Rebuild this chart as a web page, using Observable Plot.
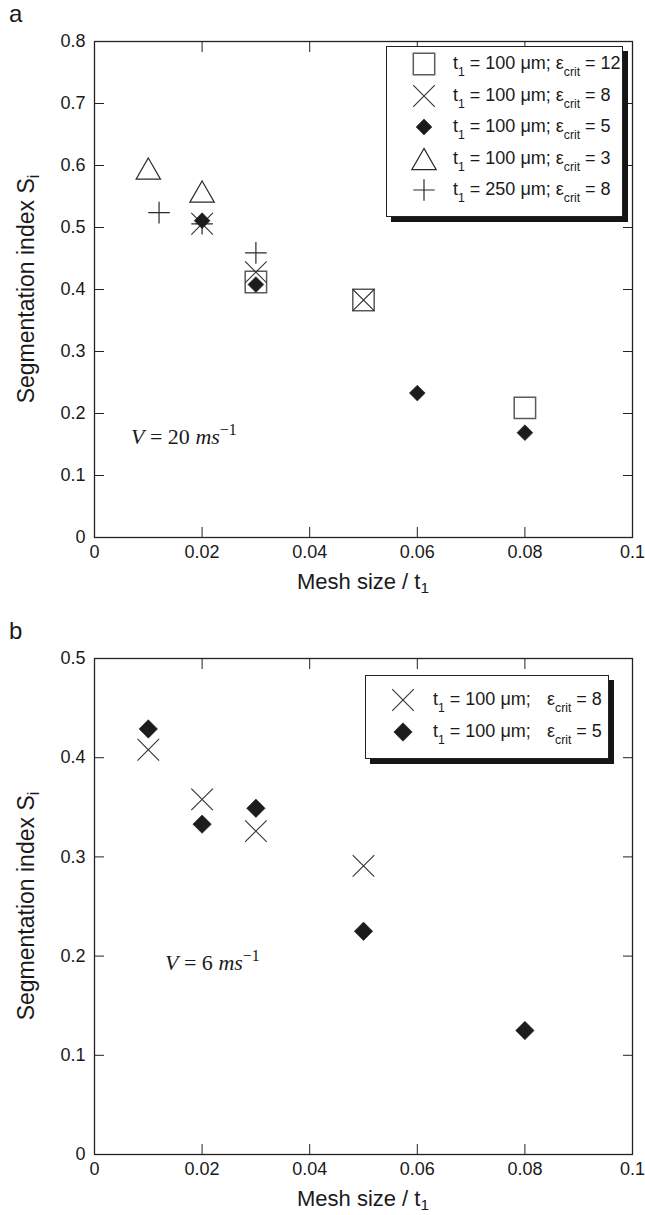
<!DOCTYPE html>
<html><head><meta charset="utf-8">
<script src="https://cdn.jsdelivr.net/npm/d3@7"></script>
<script src="https://cdn.jsdelivr.net/npm/@observablehq/plot@0.6"></script>
<style>
body{margin:0;background:#fff;font-family:"Liberation Sans",Arial,sans-serif;color:#1a1a1a}
#root{position:relative;width:645px;height:1215px;overflow:hidden;background:#fff}
.panel{position:absolute;left:0;width:645px;height:600px}
.panel svg{position:absolute;left:0;top:0}
.plabel{position:absolute;font-size:24px;line-height:26px;left:9px;top:1px}
.xlab,.ylab{position:absolute;font-size:22px;line-height:1.2;white-space:nowrap}
.xlab{transform:translate(-50%,-50%)}
.ylab{font-size:23px;transform:translate(-50%,-50%) rotate(-90deg)}
sub{font-size:0.7em;line-height:0;vertical-align:-0.3em}
.legend{position:absolute;border:1.3px solid #222;background:#fff;box-shadow:5px 5px 0 #161616;box-sizing:border-box}
.sym{position:absolute;width:30px;height:30px;transform:translate(-50%,-50%)}
.ltxt{position:absolute;font-size:18px;line-height:1.2;white-space:nowrap;transform:translateY(-50%)}
.ltxt sub{font-size:0.68em;vertical-align:-0.55em}
.vann{position:absolute;font-family:"Liberation Serif","Times New Roman",serif;font-size:22px;line-height:1.2;white-space:nowrap;transform:translateY(-50%)}
.vann sup{font-size:0.72em;line-height:0;vertical-align:0.55em}
</style>
</head><body>
<div id="root"></div>
<script>
// ---------- data ----------
const xTicks = [0, 0.02, 0.04, 0.06, 0.08, 0.1];
const yTicksA = [0, 0.1, 0.2, 0.3, 0.4, 0.5, 0.6, 0.7, 0.8];
const yTicksB = [0, 0.1, 0.2, 0.3, 0.4, 0.5];

// panel a  (V = 20 m/s)
const aE12x = [0.03, 0.05, 0.08];          const aE12y = [0.412, 0.383, 0.209];
const aE8x  = [0.02, 0.03, 0.05];          const aE8y  = [0.506, 0.428, 0.383];
const aE5x  = [0.02, 0.03, 0.06, 0.08];    const aE5y  = [0.511, 0.408, 0.233, 0.169];
const aE3x  = [0.01, 0.02];                const aE3y  = [0.595, 0.558];
const aT250x = [0.012, 0.02, 0.03];        const aT250y = [0.524, 0.506, 0.459];

// panel b  (V = 6 m/s)
const bE8x = [0.01, 0.02, 0.03, 0.05];       const bE8y = [0.408, 0.358, 0.326, 0.291];
const bE5x = [0.01, 0.02, 0.03, 0.05, 0.08]; const bE5y = [0.429, 0.333, 0.349, 0.225, 0.125];

const legendA = [
  {sym:"square",  t:"100", e:"12"},
  {sym:"times",   t:"100", e:"8"},
  {sym:"diamond", t:"100", e:"5"},
  {sym:"triangle",t:"100", e:"3"},
  {sym:"plus",    t:"250", e:"8"}
];
const legendB = [
  {sym:"times",   t:"100", e:"8"},
  {sym:"diamond", t:"100", e:"5"}
];

// ---------- symbols ----------
const rad = s => Math.sqrt(s / Math.PI);
const SYM = {
  square:  {draw(c,s){const r=rad(s);c.moveTo(-r,-r);c.lineTo(r,-r);c.lineTo(r,r);c.lineTo(-r,r);c.closePath();}},
  times:   {draw(c,s){const r=rad(s);c.moveTo(-r,-r);c.lineTo(r,r);c.moveTo(r,-r);c.lineTo(-r,r);}},
  diamond: {draw(c,s){const r=rad(s);c.moveTo(0,-r);c.lineTo(r,0);c.lineTo(0,r);c.lineTo(-r,0);c.closePath();}},
  triangle:{draw(c,s){const r=rad(s);c.moveTo(0,-0.87*r);c.lineTo(r,0.87*r);c.lineTo(-r,0.87*r);c.closePath();}},
  plus:    {draw(c,s){const r=rad(s);c.moveTo(-r,0);c.lineTo(r,0);c.moveTo(0,-r);c.lineTo(0,r);}}
};
const STYLE = {
  square:  {fill:"none", stroke:"#5a5a5a", strokeWidth:1.5},
  times:   {fill:"none", stroke:"#333", strokeWidth:1.1},
  diamond: {fill:"#1c1c1c", stroke:"#1c1c1c", strokeWidth:0.6},
  triangle:{fill:"none", stroke:"#2a2a2a", strokeWidth:1.2},
  plus:    {fill:"none", stroke:"#2a2a2a", strokeWidth:1.2}
};
const RAD = {square:10.7, times:10.8, diamond:8, triangle:12.2, plus:10.8};

const fmt = d => d === 0 ? "0" : String(+d.toFixed(2));
const pts = (xs, ys) => xs.map((x, i) => ({x, y: ys[i]}));

function dots(data, kind, r) {
  return Plot.dot(data, {x:"x", y:"y", symbol: SYM[kind], r: r ?? RAD[kind], ...STYLE[kind]});
}

function chart(yTicks, yMax, marks) {
  return Plot.plot({
    width: 645, height: 575,
    marginTop: 41, marginLeft: 94, marginRight: 13, marginBottom: 38,
    style: {fontFamily: '"Liberation Sans", Arial, sans-serif', fontSize: "18px", color: "#1a1a1a", background: "transparent", overflow: "visible"},
    x: {domain: [0, 0.1]},
    y: {domain: [0, yMax]},
    marks: [
      Plot.frame({stroke: "#222", strokeWidth: 1.3}),
      Plot.axisX(xTicks, {anchor: "bottom", tickSize: 0, tickPadding: 8, tickFormat: fmt, label: null}),
      Plot.axisX(xTicks, {anchor: "bottom", tickSize: -10, tickFormat: () => "", label: null, stroke: "#222"}),
      Plot.axisX(xTicks, {anchor: "top", tickSize: -10, tickFormat: () => "", label: null, stroke: "#222"}),
      Plot.axisY(yTicks, {anchor: "left", tickSize: 0, tickPadding: 9, tickFormat: fmt, label: null}),
      Plot.axisY(yTicks, {anchor: "left", tickSize: -10, tickFormat: () => "", label: null, stroke: "#222"}),
      Plot.axisY(yTicks, {anchor: "right", tickSize: -10, tickFormat: () => "", label: null, stroke: "#222"}),
      ...marks
    ]
  });
}

function symSvg(kind, r) {
  const p = d3.symbol(SYM[kind], Math.PI * r * r)();
  const st = STYLE[kind];
  return `<svg class="sym" viewBox="-15 -15 30 30"><path d="${p}" fill="${st.fill}" stroke="${st.stroke}" stroke-width="${st.strokeWidth}"/></svg>`;
}

const root = document.getElementById("root");

function panel(top, letter, svg, legendHtml, vHtml) {
  const div = document.createElement("div");
  div.className = "panel";
  div.style.top = top + "px";
  div.appendChild(svg);
  div.insertAdjacentHTML("beforeend",
    `<div class="plabel">${letter}</div>
     <div class="ylab" style="left:27px;top:289px">Segmentation index S<sub>i</sub></div>
     <div class="xlab" style="left:363px;top:582px">Mesh size / t<sub>1</sub></div>
     ${legendHtml}${vHtml}`);
  root.appendChild(div);
}

// ---------- panel a ----------
const svgA = chart(yTicksA, 0.8, [
  dots(pts(aE12x, aE12y), "square"),
  dots(pts(aE8x, aE8y), "times"),
  dots(pts(aE3x, aE3y), "triangle"),
  dots(pts(aT250x, aT250y), "plus"),
  dots(pts(aE5x, aE5y), "diamond", 7.9)
]);
const rowsA = legendA.map((d, i) => {
  const cy = 17 + i * 31.5;
  return `<div style="position:absolute;left:37px;top:${cy}px">${symSvg(d.sym, d.sym === "diamond" ? 7.9 : RAD[d.sym])}</div>
  <div class="ltxt" style="left:66px;top:${cy}px">t<sub>1</sub> = ${d.t} μm; ε<sub>crit</sub> = ${d.e}</div>`;
}).join("");
const legA = `<div class="legend" style="left:386px;top:46px;width:237px;height:171px">${rowsA}</div>`;
panel(0, "a", svgA, legA, `<div class="vann" style="left:131px;top:437px"><i>V</i> = 20 <i>ms</i><sup>−1</sup></div>`);

// ---------- panel b ----------
const svgB = chart(yTicksB, 0.5, [
  dots(pts(bE8x, bE8y), "times"),
  dots(pts(bE5x, bE5y), "diamond", 9.2)
]);
const rowsB = legendB.map((d, i) => {
  const cy = 24 + i * 32;
  return `<div style="position:absolute;left:37px;top:${cy}px">${symSvg(d.sym, d.sym === "diamond" ? 9.2 : RAD[d.sym])}</div>
  <div class="ltxt" style="left:67px;top:${cy}px">t<sub>1</sub> = ${d.t} μm;</div>
  <div class="ltxt" style="left:181px;top:${cy}px">ε<sub>crit</sub> = ${d.e}</div>`;
}).join("");
const legB = `<div class="legend" style="left:365px;top:58px;width:244px;height:84px">${rowsB}</div>`;
panel(617, "b", svgB, legB, `<div class="vann" style="left:165px;top:346px"><i>V</i> = 6 <i>ms</i><sup>−1</sup></div>`);
</script>
</body></html>
